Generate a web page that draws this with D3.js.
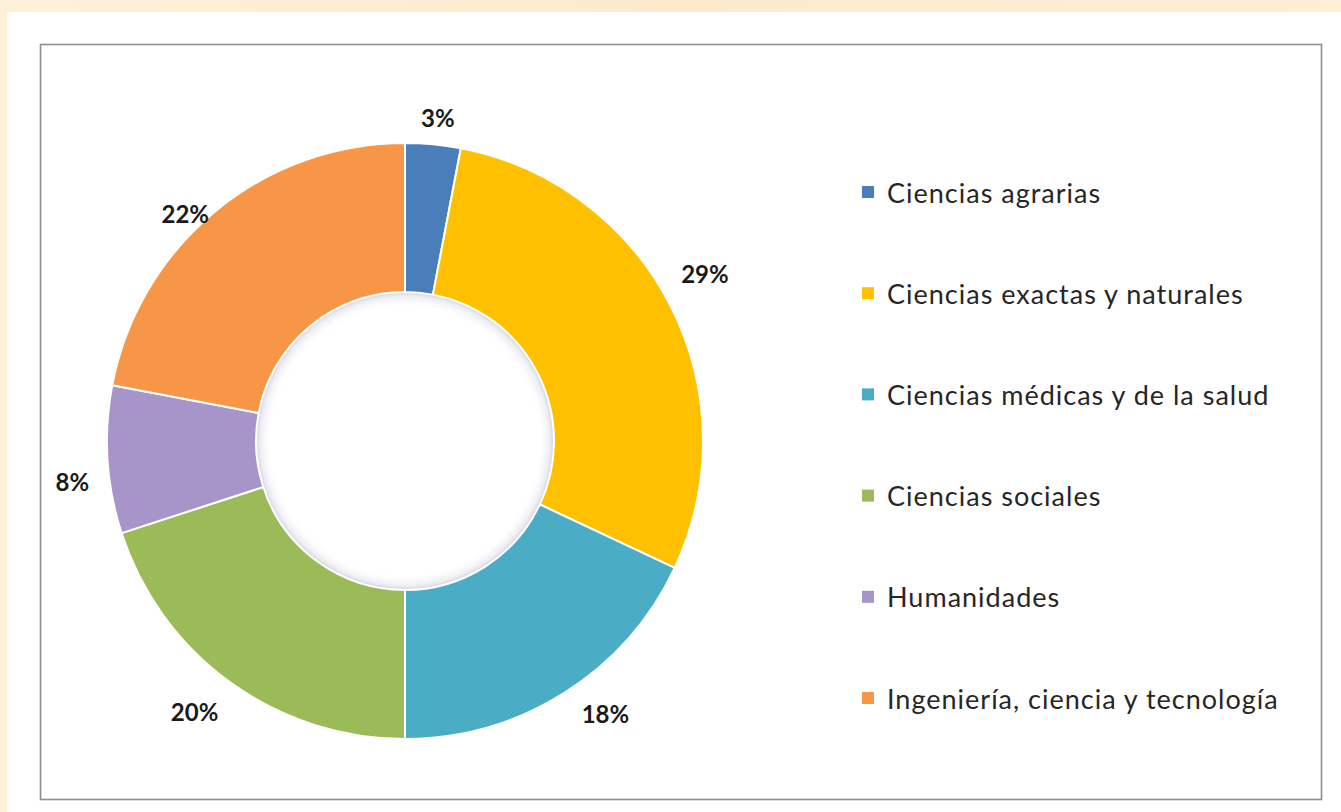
<!DOCTYPE html>
<html>
<head>
<meta charset="utf-8">
<script src="https://cdn.jsdelivr.net/npm/d3@7"></script>
<style>
  html, body { margin: 0; padding: 0; background: #fcefd5; }
  svg { display: block; }
</style>
</head>
<body>
<svg id="chart" width="1341" height="812"></svg>
<script>
const categories = [
  "Ciencias agrarias",
  "Ciencias exactas y naturales",
  "Ciencias médicas y de la salud",
  "Ciencias sociales",
  "Humanidades",
  "Ingeniería, ciencia y tecnología"
];
const values = [3, 29, 18, 20, 8, 22];
const colors = ["#4a7ebb", "#ffc000", "#4bacc6", "#9bbb59", "#a794c9", "#f79646"];
// small manual nudges for the percentage labels (layout only, px)
const labelNudgeX = [2, -4, 20, -12, -1, -4];
const labelNudgeY = [2, -13, -12, -3, 20, 33];

const W = 1341, H = 812;
const svg = d3.select("#chart");

const defs = svg.append("defs");
const lg = defs.append("linearGradient").attr("id", "bg").attr("x1", 0).attr("x2", 1).attr("y1", 0).attr("y2", 0);
lg.append("stop").attr("offset", "0%").attr("stop-color", "#fdf1da");
lg.append("stop").attr("offset", "50%").attr("stop-color", "#fbebcc");
lg.append("stop").attr("offset", "100%").attr("stop-color", "#fcefd6");
svg.append("rect").attr("width", W).attr("height", H).attr("fill", "url(#bg)");

svg.append("rect").attr("x", 7).attr("y", 12).attr("width", W - 7).attr("height", H - 12).attr("fill", "#ffffff");

svg.append("rect").attr("x", 40.5).attr("y", 44.5).attr("width", 1281).attr("height", 755)
  .attr("fill", "none").attr("stroke", "#8e8e8e").attr("stroke-width", 1.6);

const cx = 405, cy = 441, rOuter = 298, rInner = 149;
const g = svg.append("g").attr("transform", `translate(${cx},${cy})`);

const pie = d3.pie().value(d => d).sort(null);
const arcs = pie(values);
const arc = d3.arc().innerRadius(rInner).outerRadius(rOuter);

g.selectAll("path.slice").data(arcs).enter().append("path")
  .attr("class", "slice")
  .attr("d", arc)
  .attr("fill", (d, i) => colors[i])
  .attr("stroke", "#ffffff")
  .attr("stroke-width", 2);

const rg = defs.append("radialGradient").attr("id", "hole").attr("cx", "50%").attr("cy", "50%").attr("r", "50%");
rg.append("stop").attr("offset", "90%").attr("stop-color", "#ffffff").attr("stop-opacity", 0);
rg.append("stop").attr("offset", "98%").attr("stop-color", "#c8c8dc").attr("stop-opacity", 0.35);
rg.append("stop").attr("offset", "100%").attr("stop-color", "#b0b0c8").attr("stop-opacity", 0.5);
g.append("circle").attr("r", rInner - 1).attr("fill", "url(#hole)");

const total = d3.sum(values);
const labelFont = "bold 24px Lato, 'Open Sans', sans-serif";
const gap = 315;
const lblG = g.append("g");
arcs.forEach((d, i) => {
  const theta = (d.startAngle + d.endAngle) / 2;
  const sx = Math.sin(theta), sy = -Math.cos(theta);
  const txt = Math.round(values[i] / total * 100) + "%";
  const t = lblG.append("text")
    .attr("text-anchor", "middle")
    .attr("dominant-baseline", "central")
    .style("font", labelFont)
    .attr("fill", "#1a1a1a")
    .text(txt);
  const bb = t.node().getBBox();
  const hw = bb.width / 2, hh = 11;
  let tt = gap;
  for (let k = 0; k < 30; k++) {
    const x = tt * sx, y = tt * sy;
    const nx = Math.max(x - hw, Math.min(0, x + hw));
    const ny = Math.max(y - hh, Math.min(0, y + hh));
    tt += (gap - Math.hypot(nx, ny));
  }
  t.attr("x", tt * sx + labelNudgeX[i]).attr("y", tt * sy + labelNudgeY[i]);
});

const legendY = d3.scalePoint().domain(categories).range([192, 698]);
const lgG = svg.append("g");
categories.forEach((c, i) => {
  const y = legendY(c);
  lgG.append("rect").attr("x", 862).attr("y", y - 6).attr("width", 12).attr("height", 12).attr("fill", colors[i]);
  lgG.append("text").attr("x", 887).attr("y", y).attr("dominant-baseline", "central")
    .style("font", "27px Lato, 'Open Sans', sans-serif").style("letter-spacing", "1px")
    .attr("fill", "#262626").text(c);
});
</script>
</body>
</html>
